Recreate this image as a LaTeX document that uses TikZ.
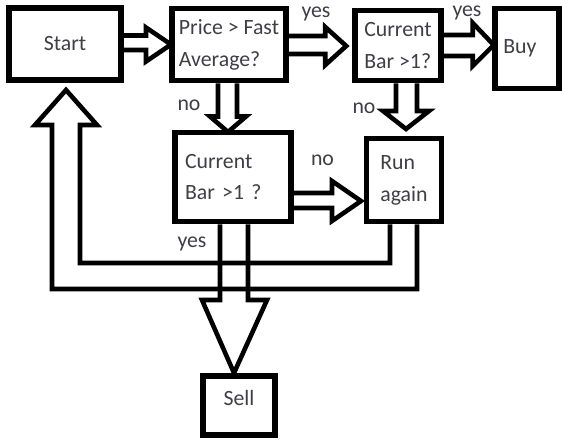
\documentclass[tikz,border=0pt]{standalone}
\usepackage{fontspec}
\setmainfont{Carlito}
\definecolor{txtgray}{RGB}{62,62,70}

\begin{document}
\begin{tikzpicture}[x=0.03cm,y=-0.03cm,
  box/.style={draw,line width=5.1pt,inner sep=0pt,text=txtgray,align=left,
    font=\fontsize{18.6pt}{27.3pt}\selectfont},
  lbl/.style={text=txtgray,inner sep=0pt,font=\fontsize{18.6pt}{22pt}\selectfont},
  barrow/.style={draw,line width=3.9pt,line join=miter}]
\useasboundingbox (0,0) rectangle (562,439);

% boxes
\node[box,minimum width=3.36cm,minimum height=2.145cm] (start) at (65,44) {Start};
\node[box,minimum width=3.435cm,minimum height=2.16cm] (price) at (229,44.5) {Price > Fast\\Average?};
\node[box,minimum width=2.595cm,minimum height=2.1cm] (bartop) at (398,45.5) {Current\\Bar >1?};
\node[box,minimum height=2.4cm,inner xsep=0.24cm,text width=1.425cm] (buy) at (527,48.5) {Buy};
\node[box,minimum height=2.67cm,inner xsep=0.3cm,text width=2.88cm] (barlow) at (233,177) {Current\\Bar >1 ?};
\node[box,minimum width=2.25cm,minimum height=2.49cm] (again) at (404,180) {Run\\again};
\node[box,minimum width=2.145cm,minimum height=1.77cm,text depth=0.45cm] (sell) at (239,405.5) {Sell};

% block arrows
\draw[barrow] (start.east) ++(0,-8.5) -- ++(22,0) -- ++(0,-8) -- ++(25,17) -- ++(-25,17) -- ++(0,-11.5) -- ++(-22,0);
\draw[barrow] (price.east) ++(0,-8.5) -- ++(36,0) -- ++(0,-9) -- ++(21,19) -- ++(-21,19) -- ++(0,-11) -- ++(-36,0);
\draw[barrow] (bartop.east) ++(0,-10.5) -- ++(28.5,0) -- ++(0,-12) -- ++(21,22) -- ++(-21,21) -- ++(0,-10) -- ++(-28.5,0);
\draw[barrow] (price.south) ++(-11,0) -- ++(0,33) -- ++(-8,0) -- ++(18,15.5) -- ++(18,-15.5) -- ++(-9,0) -- ++(0,-33);
\draw[barrow] (bartop.south) ++(-2,0) -- ++(0,27.5) -- ++(-13,0) -- ++(23,18) -- ++(23,-18) -- ++(-12,0) -- ++(0,-27.5);
\draw[barrow] (barlow.east) ++(0,16) -- ++(38,0) -- ++(0,-12) -- ++(29,20) -- ++(-29,20) -- ++(0,-13) -- ++(-38,0);
\draw[barrow] (again.south) ++(-14,0) -- ++(0,38.5) -- ++(-310,0) -- ++(0,-138) -- ++(17,0) -- ++(-31,-35) -- ++(-31,35) -- ++(17,0) -- ++(0,164) -- ++(365,0) -- ++(0,-64.5);
\draw[barrow] (barlow.south) ++(-13,0) -- ++(0,75.5) -- ++(-18,0) -- ++(32,73) -- ++(33,-73) -- ++(-19,0) -- ++(0,-75.5);

% labels
\node[lbl] (yesbar) at (316,14) {yes};
\node[lbl] (yesbuy) at (467,13) {yes};
\node[lbl] (nolow) at (189,105) {no};
\node[lbl] (noagain) at (364,108) {no};
\node[lbl] (noright) at (322.5,160) {no};
\node[lbl] (yessell) at (192,244) {yes};

\end{tikzpicture}
\end{document}
